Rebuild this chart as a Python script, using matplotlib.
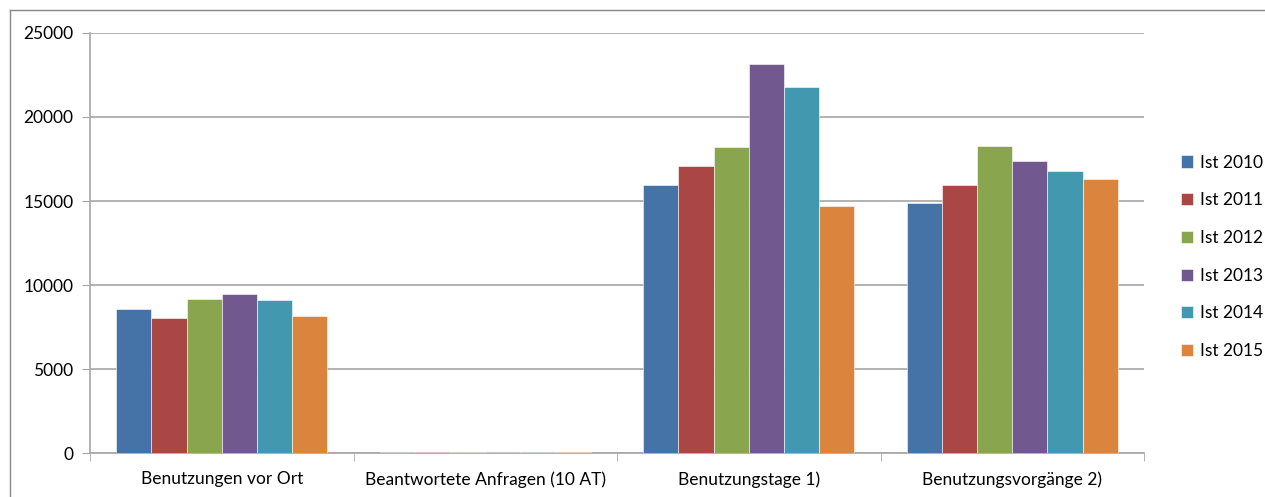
import numpy as np
import matplotlib.pyplot as plt
from matplotlib.lines import Line2D

categories = ['Benutzungen vor Ort', 'Beantwortete Anfragen (10 AT)',
              'Benutzungstage 1)', 'Benutzungsvorgänge 2)']
series_names = ['Ist 2010', 'Ist 2011', 'Ist 2012', 'Ist 2013', 'Ist 2014', 'Ist 2015']
ist_2010 = [8590, 40, 15980, 14880]
ist_2011 = [8020, 40, 17070, 15980]
ist_2012 = [9190, 40, 18200, 18250]
ist_2013 = [9450, 40, 23160, 17400]
ist_2014 = [9090, 40, 21790, 16790]
ist_2015 = [8140, 40, 14700, 16330]
yticks = [0, 5000, 10000, 15000, 20000, 25000]

colors = ['#4572A7', '#AA4643', '#89A54E', '#71588F', '#4198AF', '#DB843D']
values = [ist_2010, ist_2011, ist_2012, ist_2013, ist_2014, ist_2015]

plt.rcParams['font.family'] = ['Lato', 'DejaVu Sans']

fig = plt.figure(figsize=(12.65, 4.97), dpi=100)
ax = fig.add_axes([90 / 1265, 44 / 497, 1054 / 1265, 420 / 497])

x = np.arange(len(categories))
width = 1 / 7.5
for i, (name, vals) in enumerate(zip(series_names, values)):
    ax.bar(x + (i - 2.5) * width, vals, width, color=colors[i], label=name,
           edgecolor='white', linewidth=0.4, zorder=3)

ax.set_xlim(-0.5, 3.5)
ax.set_ylim(0, 25000)
ax.set_yticks(yticks)
ax.set_yticklabels([str(v) for v in yticks], fontsize=12.5)
ax.yaxis.grid(True, color='#a6a6a6', linewidth=1.2, zorder=0)
ax.tick_params(axis='y', length=6, color='#a6a6a6', pad=6)

ax.set_xticks(x)
ax.set_xticklabels(categories, fontsize=12.5)
ax.tick_params(axis='x', which='major', length=0, pad=13)
ax.set_xticks(np.arange(-0.5, 4, 1), minor=True)
ax.tick_params(axis='x', which='minor', length=6, color='#a6a6a6')

for side in ['top', 'right']:
    ax.spines[side].set_visible(False)
for side in ['left', 'bottom']:
    ax.spines[side].set_color('#a6a6a6')
    ax.spines[side].set_linewidth(1.2)

ax.legend(loc='center left', bbox_to_anchor=(1.02, 0.467), frameon=False,
          fontsize=12.5, handlelength=0.7, handleheight=0.7, handletextpad=0.4,
          labelspacing=1.25)

# outer chart border
fig.add_artist(Line2D([10 / 1265, 10 / 1265], [0, 487 / 497], color='#888888', linewidth=1))
fig.add_artist(Line2D([10 / 1265, 1], [487 / 497, 487 / 497], color='#888888', linewidth=1))

fig.savefig('out.png', dpi=100)
